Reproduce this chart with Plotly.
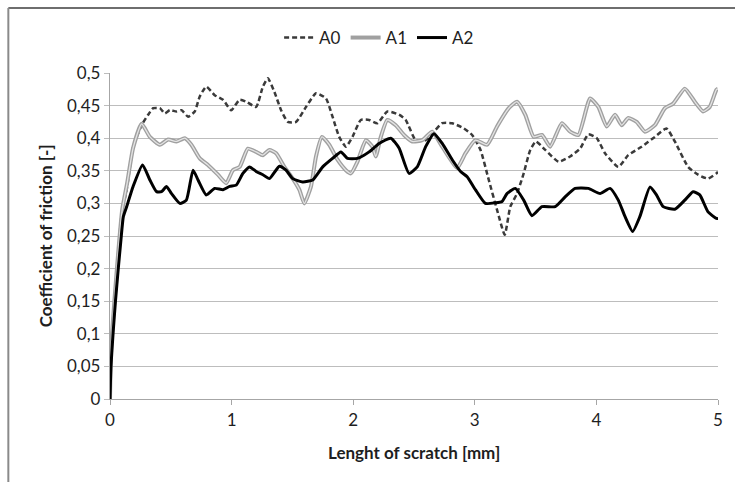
import plotly.graph_objects as go

# ---- data ----
a0_x = [0, 0.01, 0.04, 0.07, 0.096, 0.137, 0.191, 0.26, 0.314, 0.355, 0.41, 0.451, 0.492, 0.547, 0.588, 0.642, 0.697, 0.738, 0.792, 0.861, 0.929, 0.997, 1.066, 1.120, 1.202, 1.257, 1.298, 1.352, 1.407, 1.462, 1.530, 1.612, 1.694, 1.776, 1.830, 1.885, 1.940, 1.994, 2.063, 2.131, 2.199, 2.281, 2.377, 2.432, 2.514, 2.596, 2.650, 2.732, 2.814, 2.910, 2.978, 3.047, 3.115, 3.183, 3.246, 3.292, 3.347, 3.402, 3.456, 3.503, 3.579, 3.689, 3.784, 3.866, 3.934, 4.003, 4.071, 4.180, 4.262, 4.372, 4.481, 4.576, 4.645, 4.754, 4.836, 4.918, 4.986, 5.0]
a0_y = [0, 0.08, 0.16, 0.23, 0.285, 0.321, 0.387, 0.42, 0.436, 0.446, 0.446, 0.438, 0.443, 0.441, 0.443, 0.433, 0.441, 0.464, 0.479, 0.466, 0.459, 0.443, 0.459, 0.456, 0.448, 0.479, 0.492, 0.471, 0.443, 0.425, 0.425, 0.448, 0.469, 0.461, 0.433, 0.402, 0.387, 0.402, 0.428, 0.428, 0.423, 0.441, 0.436, 0.428, 0.397, 0.397, 0.407, 0.423, 0.423, 0.415, 0.405, 0.382, 0.336, 0.290, 0.252, 0.295, 0.315, 0.346, 0.382, 0.395, 0.382, 0.364, 0.372, 0.384, 0.406, 0.400, 0.377, 0.356, 0.374, 0.387, 0.402, 0.415, 0.395, 0.356, 0.344, 0.338, 0.346, 0.348]

a1_x = [0, 0.01, 0.04, 0.07, 0.1, 0.14, 0.19, 0.26, 0.328, 0.41, 0.478, 0.547, 0.615, 0.669, 0.738, 0.806, 0.888, 0.956, 1.011, 1.066, 1.134, 1.202, 1.257, 1.311, 1.366, 1.434, 1.503, 1.557, 1.598, 1.653, 1.694, 1.743, 1.803, 1.871, 1.940, 1.981, 2.035, 2.104, 2.158, 2.186, 2.227, 2.281, 2.350, 2.418, 2.486, 2.568, 2.650, 2.732, 2.801, 2.855, 2.924, 3.005, 3.101, 3.183, 3.279, 3.347, 3.415, 3.484, 3.552, 3.620, 3.716, 3.784, 3.852, 3.948, 4.016, 4.085, 4.153, 4.208, 4.262, 4.331, 4.399, 4.481, 4.563, 4.631, 4.727, 4.809, 4.877, 4.932, 4.986, 5.0]
a1_y = [0, 0.08, 0.16, 0.23, 0.29, 0.33, 0.385, 0.422, 0.402, 0.390, 0.398, 0.395, 0.400, 0.390, 0.369, 0.359, 0.344, 0.331, 0.351, 0.356, 0.384, 0.379, 0.374, 0.382, 0.377, 0.356, 0.338, 0.321, 0.300, 0.326, 0.372, 0.402, 0.390, 0.367, 0.351, 0.346, 0.364, 0.397, 0.387, 0.372, 0.402, 0.428, 0.420, 0.405, 0.395, 0.397, 0.410, 0.387, 0.367, 0.354, 0.377, 0.397, 0.390, 0.418, 0.446, 0.456, 0.436, 0.402, 0.405, 0.387, 0.423, 0.410, 0.405, 0.461, 0.448, 0.418, 0.436, 0.420, 0.431, 0.425, 0.410, 0.420, 0.446, 0.453, 0.476, 0.456, 0.441, 0.448, 0.474, 0.476]

a2_x = [0, 0.008, 0.025, 0.045, 0.068, 0.09, 0.11, 0.137, 0.19, 0.268, 0.328, 0.383, 0.424, 0.465, 0.506, 0.574, 0.628, 0.683, 0.724, 0.792, 0.861, 0.929, 0.984, 1.038, 1.093, 1.148, 1.202, 1.257, 1.311, 1.393, 1.448, 1.503, 1.585, 1.667, 1.749, 1.830, 1.899, 1.953, 2.035, 2.131, 2.213, 2.309, 2.377, 2.459, 2.527, 2.596, 2.664, 2.732, 2.814, 2.883, 2.937, 3.005, 3.087, 3.170, 3.224, 3.265, 3.333, 3.402, 3.470, 3.552, 3.661, 3.743, 3.825, 3.934, 4.030, 4.112, 4.180, 4.235, 4.298, 4.358, 4.440, 4.494, 4.549, 4.645, 4.727, 4.795, 4.850, 4.918, 4.986, 5.0]
a2_y = [0, 0.05, 0.1, 0.15, 0.2, 0.244, 0.28, 0.295, 0.326, 0.359, 0.336, 0.318, 0.318, 0.326, 0.315, 0.300, 0.305, 0.351, 0.336, 0.313, 0.323, 0.321, 0.326, 0.328, 0.346, 0.356, 0.349, 0.344, 0.338, 0.357, 0.351, 0.338, 0.333, 0.336, 0.356, 0.369, 0.379, 0.369, 0.369, 0.379, 0.392, 0.400, 0.385, 0.346, 0.356, 0.387, 0.407, 0.392, 0.367, 0.349, 0.341, 0.321, 0.300, 0.301, 0.303, 0.315, 0.323, 0.305, 0.281, 0.295, 0.295, 0.310, 0.323, 0.323, 0.315, 0.323, 0.305, 0.280, 0.257, 0.280, 0.325, 0.313, 0.295, 0.291, 0.305, 0.318, 0.313, 0.287, 0.277, 0.277]

x_ticks = [0, 1, 2, 3, 4, 5]
x_tick_text = ["0", "1", "2", "3", "4", "5"]
y_ticks = [0, 0.05, 0.1, 0.15, 0.2, 0.25, 0.3, 0.35, 0.4, 0.45, 0.5]
y_tick_text = ["0", "0,05", "0,1", "0,15", "0,2", "0,25", "0,3", "0,35", "0,4", "0,45", "0,5"]

FONT = "Lato"
FS = 17
TXT = "#1e1e1e"

fig = go.Figure()
fig.add_trace(go.Scatter(x=a0_x, y=a0_y, mode="lines", name="A0",
                         line=dict(color="#3a3a3a", width=2.5, dash="5px,3px", shape="spline", smoothing=0.5)))
fig.add_trace(go.Scatter(x=a1_x, y=a1_y, mode="lines", name="A1", legendgroup="a1",
                         line=dict(color="#a0a0a0", width=4, shape="spline", smoothing=0.5)))
fig.add_trace(go.Scatter(x=a1_x, y=a1_y, mode="lines", name="A1", legendgroup="a1", showlegend=False,
                         hoverinfo="skip",
                         line=dict(color="#e4e4e4", width=1.3, shape="spline", smoothing=0.5)))
fig.add_trace(go.Scatter(x=a2_x, y=a2_y, mode="lines", name="A2",
                         line=dict(color="#000000", width=3, shape="spline", smoothing=0.5)))

# plot area: x 110..720 px, y 73..399 px
L, R, T, B = 110, 15, 73, 83
W, H = 735 - L - R, 482 - T - B

def px_x(p):
    return (p - L) / W

def px_y(p):
    return (482 - B - p) / H

fig.update_layout(
    width=735, height=482,
    margin=dict(l=L, r=R, t=T, b=B),
    paper_bgcolor="white", plot_bgcolor="white",
    font=dict(family=FONT, size=FS, color=TXT),
    showlegend=True,
    legend=dict(orientation="h", x=px_x(380), y=px_y(38), xanchor="center", yanchor="middle",
                font=dict(family=FONT, size=FS, color=TXT), bgcolor="rgba(0,0,0,0)",
                itemwidth=30, tracegroupgap=0),
    xaxis=dict(range=[0, 5], tickvals=x_ticks, ticktext=x_tick_text, showgrid=False,
               showline=True, linecolor="#a6a6a6", linewidth=1.3, ticks="outside", ticklen=5,
               tickcolor="#a6a6a6", zeroline=False, fixedrange=True,
               tickfont=dict(family=FONT, size=FS, color=TXT)),
    yaxis=dict(range=[0, 0.5], tickvals=y_ticks, ticktext=y_tick_text, showgrid=True,
               gridcolor="#bdbdbd", gridwidth=1.3, showline=True, linecolor="#a6a6a6", linewidth=1.3,
               ticks="outside", ticklen=5, tickcolor="#bdbdbd", zeroline=False, fixedrange=True,
               tickfont=dict(family=FONT, size=FS, color=TXT)),
    shapes=[
        dict(type="line", xref="paper", yref="paper", x0=px_x(8), x1=px_x(745), y0=px_y(8), y1=px_y(8),
             line=dict(color="#6e6e6e", width=2)),
        dict(type="line", xref="paper", yref="paper", x0=px_x(8), x1=px_x(8), y0=px_y(8), y1=px_y(495),
             line=dict(color="#8a8a8a", width=2)),
    ],
    annotations=[
        dict(text="<b>Lenght of scratch [mm]</b>", xref="paper", yref="paper", x=px_x(415), y=px_y(452),
             xanchor="center", yanchor="middle", showarrow=False,
             font=dict(family=FONT, size=FS, color=TXT)),
        dict(text="<b>Coefficient of friction [-]</b>", xref="paper", yref="paper", x=px_x(45), y=px_y(236),
             xanchor="center", yanchor="middle", showarrow=False, textangle=-90,
             font=dict(family=FONT, size=FS, color=TXT)),
    ],
)

fig.write_html("out.html")
